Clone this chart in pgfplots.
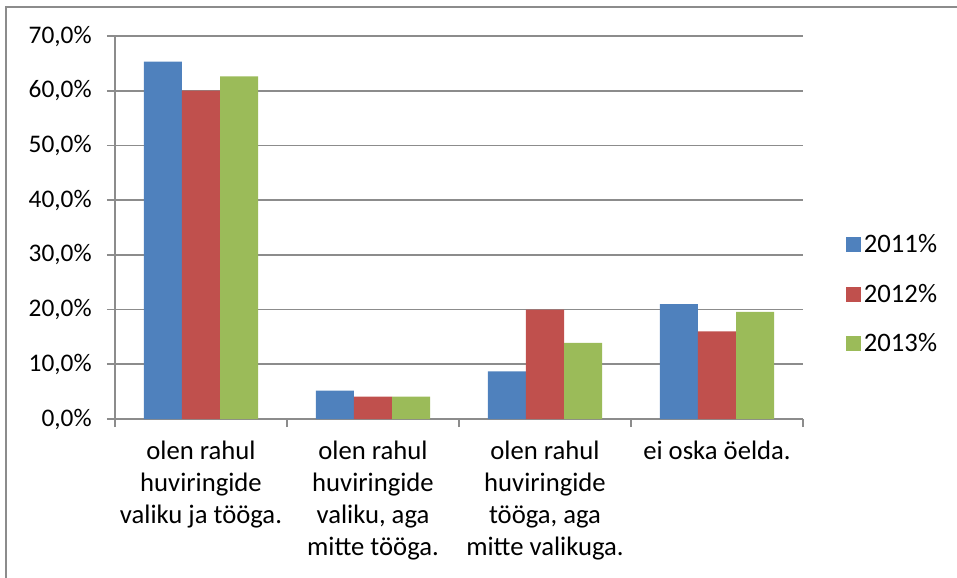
\documentclass[border=0pt]{standalone}
\usepackage{pgfplots}
\pgfplotsset{compat=1.18}
\usepackage{fontspec}
\setmainfont{Carlito}
\definecolor{blueA}{HTML}{4F81BD}
\definecolor{redA}{HTML}{C0504D}
\definecolor{greenA}{HTML}{9BBB59}
\definecolor{gridc}{HTML}{8C8C8C}
\begin{document}
\begin{tikzpicture}
\path[use as bounding box] (-86.25pt,-119.25pt) rectangle (631.5pt,314.25pt);
\draw[line width=1.5pt, gridc] (-81.75pt,-119.25pt) -- (-81.75pt,309pt) -- (631.5pt,309pt);
\begin{axis}[
    at={(0pt,0pt)}, anchor=south west,
    scale only axis, width=516pt, height=287.25pt,
    ybar=0pt, bar width=0.221,
    xmin=-0.5, xmax=3.5, ymin=0, ymax=70,
    axis lines=left,
    axis line style={-, draw=gridc, line width=1.2pt},
    ytick={0,10,...,70},
    yticklabels={{0,0\%},{10,0\%},{20,0\%},{30,0\%},{40,0\%},{50,0\%},{60,0\%},{70,0\%}},
    ymajorgrids, grid style={draw=gridc, line width=1.2pt},
    tick align=outside, major tick length=6pt,
    tick style={draw=gridc, line width=1.2pt},
    xtick={0,1,2,3},
    xticklabels={{olen rahul\\huviringide\\valiku ja tööga.},
                 {olen rahul\\huviringide\\valiku, aga\\mitte tööga.},
                 {olen rahul\\huviringide\\tööga, aga\\mitte valikuga.},
                 {ei oska öelda.}},
    major x tick style={draw=none},
    extra x ticks={-0.5,0.5,1.5,2.5,3.5},
    extra x tick labels={},
    extra x tick style={major x tick style={draw=gridc, line width=1.2pt}, grid=none},
    yticklabel style={font=\fontsize{19}{23}\selectfont, anchor=east, xshift=-8pt},
    xticklabel style={font=\fontsize{20}{24}\selectfont, align=center, anchor=north, yshift=-7pt},
    legend style={at={(1.0625,0.326)}, anchor=west, draw=none, fill=none,
        font=\fontsize{20}{24}\selectfont, inner sep=0pt, row sep=18pt},
    legend cell align=left,
    legend image code/.code={\fill[#1] (0pt,-5.6pt) rectangle (11.25pt,5.6pt);},
]
\addplot[fill=blueA, draw=none] coordinates {(0,65.3) (1,5.2) (2,8.7) (3,21.0)};
\addplot[fill=redA, draw=none] coordinates {(0,60.0) (1,4.1) (2,20.0) (3,16.0)};
\addplot[fill=greenA, draw=none] coordinates {(0,62.6) (1,4.1) (2,13.9) (3,19.6)};
\legend{2011\%,2012\%,2013\%}
\end{axis}
\end{tikzpicture}
\end{document}
